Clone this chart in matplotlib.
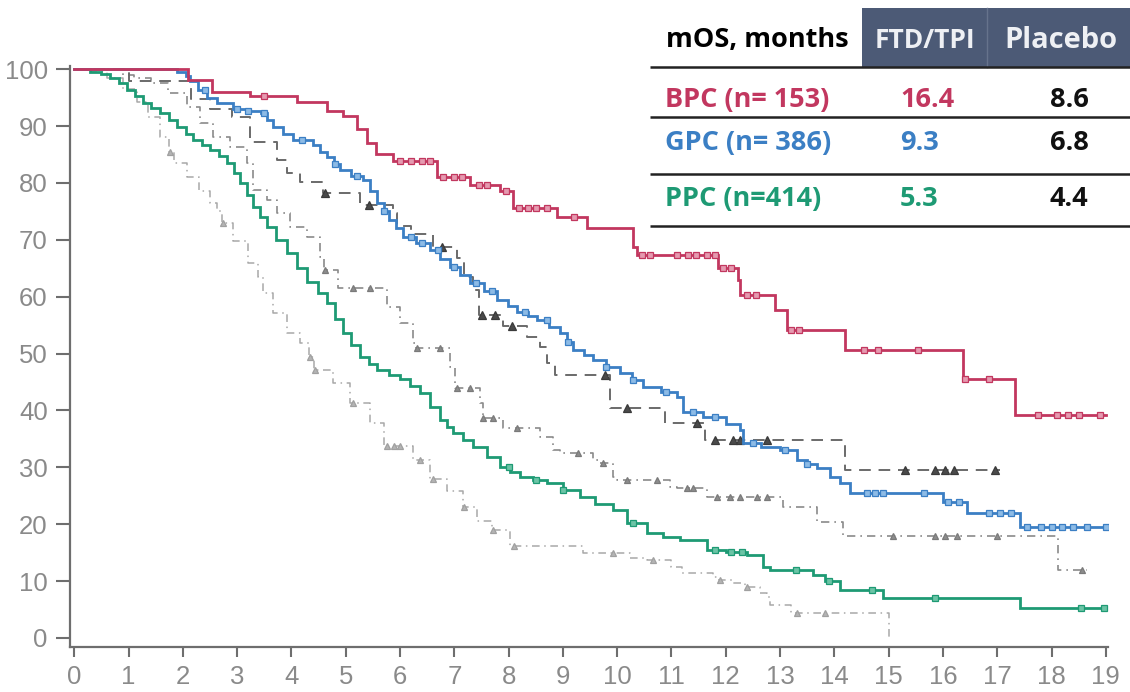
import numpy as np
import matplotlib
matplotlib.use("Agg")
import matplotlib.pyplot as plt
from matplotlib.patches import Rectangle

# Kaplan-Meier step data: time of each drop (months) and survival after it (%)
bpc_ftd_t = [0, 2.10, 2.54, 3.24, 4.11, 4.66, 4.95, 5.20, 5.40, 5.55, 5.87, 6.68, 7.29, 7.85,
             8.08, 8.89, 9.45, 10.29, 10.37, 11.86, 12.23, 12.27, 12.91, 13.13, 14.20, 16.37, 17.33]
bpc_ftd_s = [100, 98.1, 96.0, 95.2, 94.2, 92.6, 91.7, 89.5, 87.0, 85.0, 83.8, 81.0, 79.6, 78.6,
             75.6, 74.0, 72.0, 68.7, 67.3, 65.0, 63.0, 60.3, 57.6, 54.2, 50.6, 45.5, 39.2]
bpc_ftd_cens = [3.5, 6.0, 6.2, 6.4, 6.55, 6.8, 7.0, 7.15, 7.45, 7.6, 7.95, 8.2, 8.35, 8.5, 8.7,
                9.2, 10.45, 10.6, 11.1, 11.3, 11.45, 11.65, 11.8, 11.95, 12.1, 12.4, 12.55,
                13.2, 13.35, 14.55, 14.8, 15.55, 16.4, 16.85, 17.75, 18.1, 18.3, 18.5, 18.9]
bpc_ftd_end = 19.0

gpc_ftd_t = [0, 1.90, 2.05, 2.14, 2.27, 2.45, 2.63, 2.93, 3.20, 3.43,
             3.55, 3.66, 3.85, 4.03, 4.40, 4.53, 4.66, 4.78, 4.90, 5.10,
             5.32, 5.45, 5.58, 5.70, 5.80, 5.93, 6.06, 6.30, 6.56, 6.74,
             6.92, 7.10, 7.29, 7.55, 7.79, 7.98, 8.16, 8.35, 8.53, 8.75,
             8.95, 9.08, 9.19, 9.38, 9.56, 9.80, 10.06, 10.27, 10.48, 10.80,
             11.10, 11.22, 11.58, 12.00, 12.27, 12.32, 12.65, 13.00, 13.31, 13.50,
             13.68, 13.92, 14.10, 14.29, 16.00, 16.45, 17.42]
gpc_ftd_s = [100, 99.5, 98.8, 98.0, 96.3, 95.0, 94.0, 93.0, 92.6, 92.3,
             91.0, 89.8, 88.6, 87.5, 86.6, 85.5, 84.5, 83.3, 82.2, 81.3,
             80.5, 78.5, 76.4, 75.0, 73.5, 72.0, 70.5, 69.5, 68.2, 66.7,
             65.2, 63.8, 62.4, 61.0, 59.4, 58.3, 57.3, 56.6, 55.9, 54.7,
             53.6, 52.1, 50.6, 49.7, 48.9, 47.7, 46.6, 45.3, 44.1, 43.2,
             42.4, 39.7, 38.8, 37.6, 36.6, 34.3, 33.6, 33.0, 31.3, 30.6,
             29.9, 28.3, 27.2, 25.5, 23.9, 22.0, 19.5]
gpc_ftd_cens = [2.4, 3.0, 3.2, 3.5, 4.2, 4.8, 5.2, 5.7, 6.2, 6.4, 6.7, 7.0, 7.4, 7.7, 8.3, 8.7,
                9.1, 9.8, 10.3, 10.9, 11.4, 11.8, 12.5, 13.1, 13.5, 14.6, 14.75, 14.9, 15.65,
                16.1, 16.3, 16.85, 17.05, 17.25, 17.55, 17.8, 18.0, 18.2, 18.4, 18.65, 19.0]
gpc_ftd_end = 19.0

ppc_ftd_t = [0, 0.29, 0.50, 0.66, 0.82, 0.98, 1.12, 1.27, 1.42, 1.58,
             1.74, 1.90, 2.05, 2.19, 2.35, 2.50, 2.66, 2.82, 2.94, 3.06,
             3.18, 3.30, 3.42, 3.55, 3.72, 3.92, 4.10, 4.29, 4.48, 4.66,
             4.80, 4.95, 5.10, 5.27, 5.42, 5.58, 5.80, 6.00, 6.18, 6.37,
             6.55, 6.74, 6.86, 6.98, 7.16, 7.35, 7.60, 7.85, 8.03, 8.21,
             8.45, 8.71, 9.00, 9.32, 9.60, 9.93, 10.18, 10.55, 10.85, 11.16,
             11.66, 12.00, 12.39, 12.69, 12.82, 13.61, 13.83, 14.10, 14.90, 17.42]
ppc_ftd_s = [100, 99.5, 99.2, 98.5, 97.5, 96.3, 95.2, 94.0, 93.2, 92.3,
             91.0, 89.8, 88.6, 87.5, 86.6, 85.8, 84.7, 83.5, 81.8, 80.0,
             77.8, 75.7, 74.0, 72.2, 70.0, 67.7, 65.0, 62.5, 60.6, 58.9,
             56.0, 53.6, 51.5, 49.4, 48.2, 47.1, 46.3, 45.5, 44.3, 43.0,
             40.6, 38.3, 37.1, 36.0, 34.8, 33.6, 31.8, 30.1, 29.2, 28.3,
             27.8, 27.2, 26.0, 24.8, 23.6, 22.5, 20.2, 18.5, 17.8, 17.2,
             15.5, 15.1, 14.6, 12.5, 12.0, 11.1, 10.0, 8.4, 7.0, 5.3]
ppc_ftd_cens = [8.0, 8.5, 9.0, 10.3, 11.8, 12.1, 12.3, 13.3, 13.9, 14.7, 15.85, 18.55, 18.97]
ppc_ftd_end = 19.0

bpc_pbo_t = [0, 1.00, 2.15, 2.50, 2.90, 3.24, 3.74, 3.92, 4.16, 4.59, 5.27, 5.87, 5.95, 6.20,
             6.60, 7.05, 7.17, 7.35, 7.46, 7.90, 8.34, 8.58, 8.71, 8.86, 9.87, 10.88, 11.62, 14.20]
bpc_pbo_s = [100, 98.0, 94.7, 93.0, 91.5, 87.2, 84.0, 81.7, 80.1, 78.2, 76.1, 74.7, 72.5, 71.0,
             68.7, 66.8, 63.4, 61.2, 56.8, 54.8, 52.9, 51.1, 48.3, 46.2, 40.5, 37.8, 34.8, 29.5]
bpc_pbo_cens = [4.62, 5.42, 6.78, 7.51, 7.75, 8.07, 9.78, 10.18, 11.47, 11.80, 12.14, 12.27,
                12.76, 15.30, 15.86, 16.04, 16.20, 16.96]
bpc_pbo_end = 17.05

gpc_pbo_t = [0, 0.90, 1.10, 1.42, 1.72, 2.08, 2.32, 2.56, 2.87, 3.19, 3.30, 3.55, 3.74, 3.98,
             4.29, 4.53, 4.60, 4.85, 5.76, 6.00, 6.24, 6.30, 6.92, 7.02, 7.48, 7.52, 7.90, 8.58,
             8.82, 8.95, 9.56, 9.65, 9.93, 10.00, 10.97, 11.10, 11.66, 13.06, 13.68, 14.16, 18.12]
gpc_pbo_s = [100, 99.0, 98.5, 97.5, 95.8, 93.3, 90.5, 88.0, 86.3, 83.5, 78.7, 77.0, 74.7, 72.2,
             70.5, 67.0, 64.7, 61.5, 58.2, 55.4, 51.8, 51.0, 47.6, 44.0, 41.3, 38.7, 36.9, 35.3,
             33.0, 32.5, 31.3, 30.8, 28.3, 27.8, 26.5, 26.3, 24.8, 23.0, 20.4, 18.0, 12.0]
gpc_pbo_cens = [4.62, 5.14, 5.45, 6.32, 6.74, 7.05, 7.29, 7.53, 7.72, 8.16, 9.28, 9.74, 10.18,
                10.73, 11.29, 11.40, 11.84, 12.07, 12.27, 12.58, 12.76, 15.08, 15.86, 16.04,
                16.26, 17.00, 18.56]
gpc_pbo_end = 18.65

ppc_pbo_t = [0, 0.30, 0.60, 0.90, 1.16, 1.35, 1.58, 1.75, 1.84, 2.08, 2.30, 2.50, 2.63, 2.72,
             2.93, 3.20, 3.38, 3.48, 3.66, 3.92, 4.16, 4.33, 4.42, 4.77, 5.08, 5.45, 5.70, 6.24,
             6.55, 6.86, 7.16, 7.42, 7.70, 8.03, 9.37, 10.24, 10.55, 11.00, 11.20, 11.77, 11.88,
             12.14, 12.35, 12.63, 12.76, 12.82, 13.20, 15.00]
ppc_pbo_s = [100, 99.5, 98.5, 96.5, 94.3, 91.5, 88.0, 85.4, 83.5, 81.0, 78.5, 76.4, 75.0, 73.0,
             69.8, 66.0, 63.4, 60.6, 57.1, 53.6, 51.8, 49.4, 47.1, 44.8, 41.3, 37.8, 33.8, 31.3,
             28.0, 25.8, 23.0, 20.5, 19.0, 16.2, 15.0, 14.1, 13.7, 12.5, 11.4, 10.7, 10.2,
             9.7, 9.0, 7.9, 7.2, 5.8, 4.4, 0.0]
ppc_pbo_cens = [1.77, 2.74, 4.35, 4.44, 5.14, 5.76, 5.88, 6.00, 6.37, 6.60, 7.18, 7.72, 8.10,
                9.93, 10.66, 11.90, 12.39, 13.32, 13.83]
ppc_pbo_end = 15.0

# summary table
table_header = ["mOS, months", "FTD/TPI", "Placebo"]
table_groups = ["BPC (n= 153)", "GPC (n= 386)", "PPC (n=414)"]
mos_ftd = ["16.4", "9.3", "5.3"]
mos_pbo = ["8.6", "6.8", "4.4"]

x_ticks = list(range(0, 20))
y_ticks = list(range(0, 101, 10))

RED = "#C2375F"
BLUE = "#3B7FC4"
GREEN = "#1E9A74"
HEADER_BG = "#4C5A76"
AXIS_GREY = "#6e6e6e"


def surv_at(t, times, surv):
    idx = np.searchsorted(times, t, side="right") - 1
    return np.asarray(surv)[idx]


def km_curve(ax, times, surv, end, cens, color, lw, ls, marker, msize, mfc, mec, z):
    x = np.append(times, end)
    y = np.append(surv, surv[-1])
    ax.step(x, y, where="post", color=color, lw=lw, ls=ls, zorder=z,
            solid_joinstyle="miter", dash_capstyle="butt")
    cy = [surv_at(c, times, surv) for c in cens]
    ax.plot(cens, cy, ls="none", marker=marker, ms=msize, mfc=mfc, mec=mec,
            mew=0.9, zorder=z + 0.5)


fig = plt.figure(figsize=(11.3, 6.92), dpi=100)
ax = fig.add_axes([0.0619, 0.065, 0.9186, 0.840])

# placebo arms (grey, dashed)
km_curve(ax, ppc_pbo_t, ppc_pbo_s, ppc_pbo_end, ppc_pbo_cens, "#a8a8a8", 1.1, (0, (5, 3, 1, 3)),
         "^", 4.5, "#b4b4b4", "#a0a0a0", 2)
km_curve(ax, gpc_pbo_t, gpc_pbo_s, gpc_pbo_end, gpc_pbo_cens, "#8a8a8a", 1.2, (0, (5, 3, 1, 3)),
         "^", 5, "#8c8c8c", "#7a7a7a", 2)
km_curve(ax, bpc_pbo_t, bpc_pbo_s, bpc_pbo_end, bpc_pbo_cens, "#6a6a6a", 1.4, (0, (6, 4)),
         "^", 6, "#4a4a4a", "#3a3a3a", 2)

# FTD/TPI arms (coloured, solid)
km_curve(ax, ppc_ftd_t, ppc_ftd_s, ppc_ftd_end, ppc_ftd_cens, GREEN, 2.0, "-",
         "s", 4, "#6cc4a6", GREEN, 4)
km_curve(ax, gpc_ftd_t, gpc_ftd_s, gpc_ftd_end, gpc_ftd_cens, BLUE, 2.0, "-",
         "s", 4, "#8dbbe6", BLUE, 4)
km_curve(ax, bpc_ftd_t, bpc_ftd_s, bpc_ftd_end, bpc_ftd_cens, RED, 2.0, "-",
         "s", 4, "#e59ab0", RED, 4)

ax.set_xlim(-0.08, 19.04)
ax.set_ylim(-1.6, 100.6)
ax.set_xticks(x_ticks)
ax.set_yticks(y_ticks)
for side in ("top", "right"):
    ax.spines[side].set_visible(False)
for side in ("left", "bottom"):
    ax.spines[side].set_color(AXIS_GREY)
    ax.spines[side].set_linewidth(1.6)
tick_family = ["Liberation Sans Narrow", "Liberation Sans", "DejaVu Sans"]
ax.tick_params(axis="y", length=10, width=1.5, color=AXIS_GREY, pad=6)
ax.tick_params(axis="x", length=7, width=1.5, color=AXIS_GREY, pad=6)
for lab in ax.get_xticklabels() + ax.get_yticklabels():
    lab.set_fontfamily(tick_family)
    lab.set_fontsize(18.5)
    lab.set_color("#8a8a8a")

# summary table drawn in pixel coordinates on an overlay
tab = fig.add_axes([0, 0, 1, 1], facecolor="none")
tab.set_xlim(0, 1130)
tab.set_ylim(692, 0)
tab.axis("off")

tfont = ["Open Sans", "DejaVu Sans"]
tab.add_patch(Rectangle((862, 8), 280, 59, facecolor=HEADER_BG, edgecolor="none"))
tab.plot([987, 987], [8, 67], color="#66738c", lw=1.0)
tab.text(757, 40, table_header[0], ha="center", va="center", fontsize=19.5,
         fontweight="bold", family=tfont, color="black")
tab.text(925, 40, table_header[1], ha="center", va="center", fontsize=19,
         fontweight="bold", family=tfont, color="#eef0f4")
tab.text(1004, 40, table_header[2], ha="left", va="center", fontsize=21,
         fontweight="bold", family=tfont, color="#eef0f4")

for yy in (67, 117, 174, 226):
    tab.plot([650, 1130], [yy, yy], color="#222222", lw=1.8, solid_capstyle="butt")

row_y = [100, 143, 199]
row_colors = [RED, BLUE, GREEN]
for ry, grp, f, p, c in zip(row_y, table_groups, mos_ftd, mos_pbo, row_colors):
    tab.text(665, ry, grp, ha="left", va="center", fontsize=19.5, fontweight="bold",
             family=tfont, color=c)
    tab.text(900, ry, f, ha="left", va="center", fontsize=19.5, fontweight="bold",
             family=tfont, color=c)
    tab.text(1050, ry, p, ha="left", va="center", fontsize=19.5, fontweight="bold",
             family=tfont, color="#111111")

fig.savefig("out.png", dpi=100, facecolor="white")
